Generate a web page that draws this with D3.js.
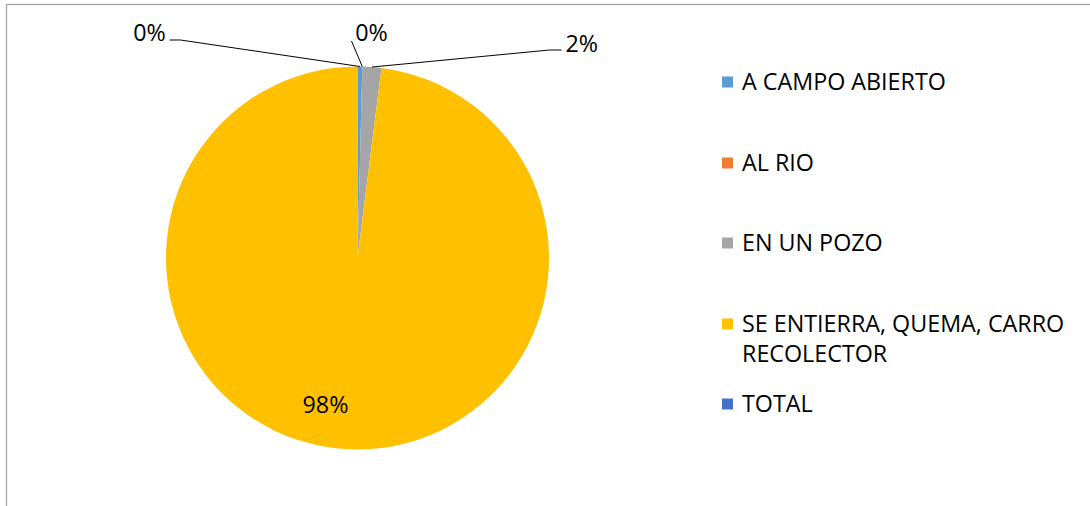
<!DOCTYPE html>
<html><head><meta charset="utf-8">
<script src="https://cdn.jsdelivr.net/npm/d3@7"></script>
<style>html,body{margin:0;padding:0;background:#fff;overflow:hidden}</style>
</head><body>
<svg id="c" width="1090" height="506"></svg>
<script>
const categories = ["A CAMPO ABIERTO", "AL RIO", "EN UN POZO", "SE ENTIERRA, QUEMA, CARRO RECOLECTOR", "TOTAL"];
const values = [1, 0, 4, 245, 0];
const colors = ["#5B9BD5", "#ED7D31", "#A5A5A5", "#FFC000", "#4472C4"];
const legendLines = [["A CAMPO ABIERTO"], ["AL RIO"], ["EN UN POZO"], ["SE ENTIERRA, QUEMA, CARRO", "RECOLECTOR"], ["TOTAL"]];
const labelShown = [true, true, true, true, false];

const svg = d3.select("#c");
const W = 1090, H = 506;
const FONT = "'Open Sans', 'Noto Sans', sans-serif";
const FS = 23.3;

// frame
svg.append("rect").attr("x", 6.5).attr("y", 4.5).attr("width", W + 10).attr("height", H + 10)
  .attr("fill", "#fff").attr("stroke", "#A6A6A6").attr("stroke-width", 1.3);

const cx = 357.5, cy = 258, r = 191.5;
const total = d3.sum(values);
const pie = d3.pie().sort(null).value(d => d)(values);
const arc = d3.arc().innerRadius(0).outerRadius(r);
const g = svg.append("g").attr("transform", `translate(${cx},${cy})`);
g.selectAll("path").data(pie).join("path")
  .attr("d", arc).attr("fill", (d, i) => colors[i]);

const fmt = v => Math.round(v / total * 100) + "%";
// label layout: outside labels with leader lines (relative to pie centre)
const labelLayout = [
  { type: "out", pts: [[-177, -218], [-188, -218]], tx: -208, ty: -225, anchor: "middle" },
  { type: "out", pts: [[-6, -217]], tx: 14, ty: -225, anchor: "middle" },
  { type: "out", pts: [[192, -208], [204, -208]], tx: 208, ty: -214, anchor: "start" },
  { type: "in", tx: -32, ty: 147, anchor: "middle" },
  null
];
pie.forEach((d, i) => {
  if (!labelShown[i]) return;
  const L = labelLayout[i];
  if (L.type === "out") {
    const a = (d.startAngle + d.endAngle) / 2;
    const p0 = [Math.sin(a) * r, -Math.cos(a) * r];
    g.append("path").attr("d", d3.line()([p0, ...L.pts]))
      .attr("fill", "none").attr("stroke", "#000").attr("stroke-width", 1);
  }
  g.append("text").attr("x", L.tx).attr("y", L.ty).attr("dy", "0.35em")
    .attr("text-anchor", L.anchor).attr("font-family", FONT).attr("font-size", FS)
    .attr("fill", "#000").text(fmt(d.value));
});

// legend
const legY = [82, 163, 243, 324, 404];
const lg = svg.append("g");
categories.forEach((c, i) => {
  lg.append("rect").attr("x", 722).attr("y", legY[i] - 5.5).attr("width", 11).attr("height", 11).attr("fill", colors[i]);
  legendLines[i].forEach((t, j) => {
    lg.append("text").attr("x", 742).attr("y", legY[i] + j * 30).attr("dy", "0.36em")
      .attr("font-family", FONT).attr("font-size", FS).attr("fill", "#000").text(t);
  });
});
</script>
</body></html>
